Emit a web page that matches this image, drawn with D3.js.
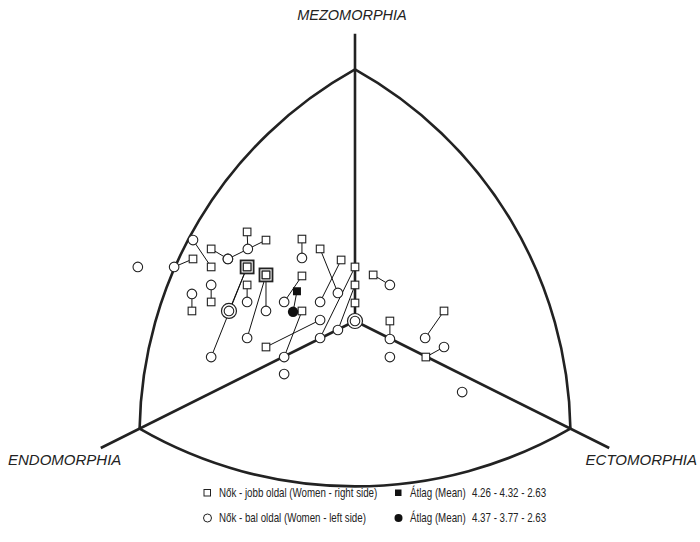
<!DOCTYPE html>
<html>
<head>
<meta charset="utf-8">
<script src="https://cdn.jsdelivr.net/npm/d3@7"></script>
<style>
  body { margin: 0; background: #fff; }
  text { font-family: "Liberation Sans", Arial, sans-serif; fill: #222; }
</style>
</head>
<body>
<div id="chart-area"></div>
<script>
// somatochart coordinates: X = ecto - endo, Y = 2*meso - endo - ecto

// right side (squares) and left side (circles), paired by index
var rightX = [-4.04, -4.55, -4.04, -2.50, -3.03, -4.04, -4.58, -3.03, -3.03, -3.03, -2.50, -2.50, -1.49, -0.98, -0.39, -1.49, -1.49, -2.50, 0, 0, 0, 0.51, 0.98, 2.50, 1.99]
var rightY = [3.18, 3.65, 4.24, 4.76, 5.24, 1.12, 0.59, 2.12, 3.18, 3.18, 2.71, 2.71, 4.82, 4.24, 3.59, 2.65, 0.59, -1.53, 3.18, 2.12, 1.06, 2.71, 0, 0.59, -2.12]
var leftX = [-4.55, -5.08, -3.57, -3.57, -3.01, -4.04, -4.58, -3.03, -3.54, -4.04, -2.50, -3.03, -1.49, -0.48, -0.98, -1.99, -1.99, -0.98, -0.98, -0.48, 0, 0.98, 0.98, 1.97, 2.50]
var leftY = [4.76, 3.18, 3.65, 3.65, 4.24, 2.12, 1.59, 1.12, 0.59, -2.12, 0.59, -1.0, 3.71, 1.65, 1.12, 1.12, -2.12, 0.06, -1.0, -0.53, 0, 2.12, -1.06, -1.0, -1.53]

// left side circles without a drawn partner
var soloX = [-6.10, 0.98, 3.01, -1.99]
var soloY = [3.18, -2.12, -4.18, -3.12]

// markers standing for two subjects
var doubleSquares = [[-3.03, 3.18], [-2.50, 2.71]]
var doubleCircles = [[-3.54, 0.59], [0, 0]]

// means: endo, meso, ecto
var meanRight = [4.26, 4.32, 2.63]
var meanLeft = [4.37, 3.77, 2.63]

var axisNames = ["MEZOMORPHIA", "ENDOMORPHIA", "ECTOMORPHIA"]
var legendNames = ["Nők - jobb oldal (Women - right side)", "Nők - bal oldal (Women - left side)", "Átlag (Mean)"]

// triangle corners and axis ends in chart units
var corners = {top: [0, 14.8], left: [-6.05, -6.33], right: [6.05, -6.33]}
var axisEnds = [[0, 16.9], [-7.14, -7.47], [7.14, -7.47]]

const svg = d3.select("#chart-area").append("svg")
  .attr("width", 700)
  .attr("height", 542);

var x = d3.scaleLinear().domain([-6.05, 6.05]).range([139.6, 570.4]);
var y = d3.scaleLinear().domain([0, 14.8]).range([321, 69.4]);

var ink = "#222";

// three axes from the centre
svg.append("g").selectAll("line")
  .data(axisEnds).enter().append("line")
  .attr("x1", x(0)).attr("y1", y(0))
  .attr("x2", d => x(d[0])).attr("y2", d => y(d[1]))
  .attr("stroke", ink).attr("stroke-width", 2.6);

// rounded triangle: each side an arc centred on the opposite corner
var T = [x(corners.top[0]), y(corners.top[1])];
var L = [x(corners.left[0]), y(corners.left[1])];
var R = [x(corners.right[0]), y(corners.right[1])];
function dist(a, b) { return Math.hypot(a[0] - b[0], a[1] - b[1]); }
var path = "M" + L + " A" + dist(L, T) + "," + dist(L, T) + " 0 0 1 " + T +
  " A" + dist(T, R) + "," + dist(T, R) + " 0 0 1 " + R +
  " A" + dist(R, L) + "," + dist(R, L) + " 0 0 1 " + L;
svg.append("path").attr("d", path)
  .attr("fill", "none").attr("stroke", ink).attr("stroke-width", 2.6);

// pair lines
var pairs = rightX.map((d, i) => ({sx: d, sy: rightY[i], cx: leftX[i], cy: leftY[i]}));
svg.append("g").selectAll("line")
  .data(pairs).enter().append("line")
  .attr("x1", d => x(d.sx)).attr("y1", d => y(d.sy))
  .attr("x2", d => x(d.cx)).attr("y2", d => y(d.cy))
  .attr("stroke", "#111").attr("stroke-width", 1);

// mean points from somatotype values
function toXY(s) { return [s[2] - s[0], 2 * s[1] - s[0] - s[2]]; }
var mR = toXY(meanRight), mL = toXY(meanLeft);
svg.append("line")
  .attr("x1", x(mR[0])).attr("y1", y(mR[1]))
  .attr("x2", x(mL[0])).attr("y2", y(mL[1]))
  .attr("stroke", "#111").attr("stroke-width", 1);

// circles
var circles = leftX.map((d, i) => [d, leftY[i]]).concat(soloX.map((d, i) => [d, soloY[i]]));
svg.append("g").selectAll("circle")
  .data(doubleCircles).enter().append("circle")
  .attr("cx", d => x(d[0])).attr("cy", d => y(d[1])).attr("r", 7.5)
  .attr("fill", "#fff").attr("stroke", ink).attr("stroke-width", 1.2);
svg.append("g").selectAll("circle")
  .data(circles).enter().append("circle")
  .attr("cx", d => x(d[0])).attr("cy", d => y(d[1])).attr("r", 4.8)
  .attr("fill", "#fff").attr("stroke", ink).attr("stroke-width", 1.1);

// squares
var squares = rightX.map((d, i) => [d, rightY[i]]);
svg.append("g").selectAll("rect")
  .data(doubleSquares).enter().append("rect")
  .attr("x", d => x(d[0]) - 6.5).attr("y", d => y(d[1]) - 6.5)
  .attr("width", 13).attr("height", 13)
  .attr("fill", "#fff").attr("stroke", ink).attr("stroke-width", 1.8);
svg.append("g").selectAll("rect")
  .data(squares).enter().append("rect")
  .attr("x", d => x(d[0]) - 3.8).attr("y", d => y(d[1]) - 3.8)
  .attr("width", 7.6).attr("height", 7.6)
  .attr("fill", "#fff").attr("stroke", ink).attr("stroke-width", 1.1);

svg.append("rect")
  .attr("x", x(mR[0]) - 4).attr("y", y(mR[1]) - 4)
  .attr("width", 8).attr("height", 8).attr("fill", "#111");
svg.append("circle")
  .attr("cx", x(mL[0])).attr("cy", y(mL[1])).attr("r", 5.2).attr("fill", "#111");

// axis names
svg.append("text").attr("x", 352).attr("y", 20).attr("text-anchor", "middle")
  .attr("font-size", 14.5).attr("font-style", "italic").text(axisNames[0]);
svg.append("text").attr("x", 8).attr("y", 465)
  .attr("font-size", 15).attr("font-style", "italic").text(axisNames[1]);
svg.append("text").attr("x", 697).attr("y", 465).attr("text-anchor", "end")
  .attr("font-size", 15).attr("font-style", "italic").text(axisNames[2]);

// legend (narrow lettering, squeezed sideways)
var fmt = d3.format(".2f");
var lg = svg.append("g");
function label(tx, ty, s) {
  lg.append("text").attr("transform", "translate(" + tx + "," + ty + ") scale(0.78,1)")
    .attr("font-size", 12.5).text(s);
}
lg.append("rect").attr("x", 204).attr("y", 489.5).attr("width", 6.5).attr("height", 6.5)
  .attr("fill", "#fff").attr("stroke", ink).attr("stroke-width", 1);
label(219, 497, legendNames[0]);
lg.append("circle").attr("cx", 207.5).attr("cy", 518).attr("r", 4)
  .attr("fill", "#fff").attr("stroke", ink).attr("stroke-width", 1);
label(219, 522, legendNames[1]);

lg.append("rect").attr("x", 395).attr("y", 489.5).attr("width", 6.5).attr("height", 6.5).attr("fill", "#111");
label(410, 497, legendNames[2]);
label(472, 497, meanRight.map(fmt).join(" - "));
lg.append("circle").attr("cx", 398.5).attr("cy", 518).attr("r", 4).attr("fill", "#111");
label(410, 522, legendNames[2]);
label(472, 522, meanLeft.map(fmt).join(" - "));
</script>
</body>
</html>
